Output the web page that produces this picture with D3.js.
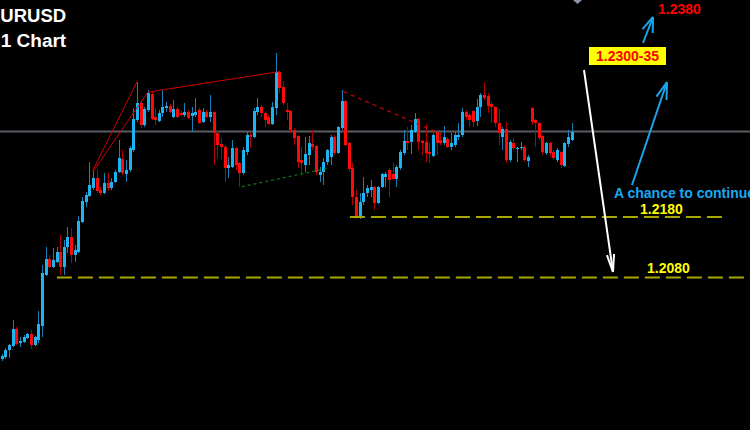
<!DOCTYPE html>
<html>
<head>
<meta charset="utf-8">
<script src="https://cdn.jsdelivr.net/npm/d3@7"></script>
<style>
  html, body { margin: 0; padding: 0; background: #000; }
  svg { display: block; }
</style>
</head>
<body>
<div id="chart"></div>
<script>
// EURUSD H1 candles
var candleOpen = [1.19457,1.19490,1.19606,1.19672,1.19952,1.19721,1.19738,1.19804,1.19870,1.19688,
  1.19771,1.20002,1.20843,1.21107,1.20975,1.21058,1.21223,1.20975,1.21305,1.21470,
  1.21173,1.21223,1.21718,1.22048,1.22147,1.22279,1.22444,1.22246,1.22196,1.22361,
  1.22279,1.22378,1.22543,1.22757,1.22510,1.22576,1.22906,1.23401,1.23681,1.23318,
  1.23566,1.23830,1.23450,1.23384,1.23516,1.23599,1.23632,1.23450,1.23582,1.23516,
  1.23483,1.23533,1.23467,1.23483,1.23566,1.23368,1.23533,1.23450,1.23533,1.23186,
  1.23005,1.22955,1.22609,1.22625,1.22939,1.22691,1.22526,1.22873,1.23153,1.23120,
  1.23533,1.23615,1.23516,1.23450,1.23335,1.23599,1.24193,1.23945,1.23566,1.23549,
  1.23236,1.23137,1.22741,1.22658,1.22823,1.23005,1.22972,1.22493,1.22543,1.22708,
  1.22790,1.23120,1.22856,1.23269,1.23714,1.23021,1.22609,1.22130,1.21784,1.22048,
  1.22196,1.22246,1.22295,1.22031,1.22295,1.22460,1.22576,1.22510,1.22427,1.22609,
  1.22856,1.23054,1.23038,1.23203,1.23417,1.23054,1.23038,1.22873,1.22807,1.23203,
  1.23071,1.23021,1.23087,1.22955,1.22988,1.23120,1.23153,1.23533,1.23483,1.23549,
  1.23384,1.23615,1.23813,1.23797,1.23665,1.23615,1.23351,1.23120,1.23252,1.22741,
  1.23021,1.22922,1.22939,1.22955,1.22724,1.23599,1.23401,1.23351,1.23137,1.22856,
  1.23021,1.22873,1.22741,1.22873,1.22642,1.23005,1.23071];
var candleHigh = [1.19540,1.19639,1.19705,1.20101,1.19985,1.19820,1.19853,1.19886,1.19936,1.19837,
  1.20249,1.21008,1.21305,1.21173,1.21289,1.21305,1.21503,1.21421,1.21635,1.21619,
  1.21338,1.21817,1.22130,1.22213,1.22708,1.22576,1.22576,1.22295,1.22526,1.22526,
  1.22444,1.22576,1.23071,1.22906,1.22741,1.22972,1.23599,1.24028,1.23731,1.23615,
  1.23896,1.23863,1.23599,1.23566,1.23896,1.23698,1.23665,1.23731,1.23615,1.23549,
  1.23681,1.23566,1.23615,1.23764,1.23599,1.23599,1.23566,1.23813,1.23549,1.23236,
  1.23104,1.22988,1.22790,1.23071,1.22955,1.22708,1.22955,1.23203,1.23186,1.23599,
  1.23764,1.23648,1.23533,1.23483,1.23698,1.24506,1.24209,1.24044,1.23681,1.23566,
  1.23269,1.23153,1.22955,1.23120,1.23137,1.23236,1.22988,1.22625,1.22774,1.22922,
  1.23153,1.23153,1.23302,1.23896,1.23731,1.23038,1.22691,1.22246,1.22196,1.22460,
  1.22328,1.22411,1.22312,1.22312,1.22526,1.22543,1.22609,1.22691,1.22658,1.22906,
  1.23236,1.23285,1.23318,1.23516,1.23434,1.23071,1.23335,1.23021,1.23186,1.23219,
  1.23186,1.23302,1.23120,1.23186,1.23203,1.23351,1.23599,1.23566,1.23516,1.23566,
  1.23747,1.23846,1.24028,1.23846,1.23698,1.23632,1.23582,1.23285,1.23368,1.23071,
  1.23104,1.22955,1.23038,1.22988,1.22823,1.23615,1.23417,1.23368,1.23153,1.23038,
  1.23038,1.22906,1.22939,1.22889,1.23038,1.23236,1.23351];
var candleLow = [1.19424,1.19457,1.19474,1.19655,1.19688,1.19655,1.19721,1.19787,1.19622,1.19672,
  1.19721,1.19820,1.20827,1.20959,1.20959,1.21041,1.20843,1.20843,1.21206,1.21041,
  1.21058,1.21206,1.21701,1.21965,1.22130,1.22246,1.22196,1.22163,1.22180,1.22229,
  1.22246,1.22361,1.22526,1.22493,1.22378,1.22543,1.22873,1.23368,1.23269,1.23285,
  1.23533,1.23401,1.23318,1.23368,1.23450,1.23533,1.23516,1.23434,1.23434,1.23467,
  1.23450,1.23417,1.23203,1.23450,1.23335,1.23351,1.23434,1.23368,1.22658,1.22774,
  1.22741,1.22378,1.22444,1.22609,1.22576,1.22295,1.22493,1.22823,1.22939,1.23104,
  1.23483,1.23450,1.23285,1.23318,1.23318,1.23483,1.23846,1.23648,1.23401,1.23186,
  1.22988,1.22609,1.22493,1.22543,1.22658,1.22906,1.22493,1.22378,1.22328,1.22658,
  1.22658,1.22823,1.22840,1.23236,1.22972,1.22543,1.21998,1.21767,1.21767,1.21998,
  1.22130,1.22130,1.21916,1.22015,1.22279,1.22295,1.22130,1.22411,1.22295,1.22576,
  1.22823,1.22906,1.22840,1.23186,1.22906,1.22823,1.22708,1.22691,1.22790,1.22823,
  1.22988,1.22988,1.22939,1.22906,1.22955,1.23071,1.23120,1.23401,1.23285,1.23285,
  1.23302,1.23450,1.23731,1.23516,1.23351,1.23285,1.22988,1.22906,1.22691,1.22708,
  1.22906,1.22708,1.22906,1.22708,1.22625,1.23318,1.22955,1.23071,1.22823,1.22823,
  1.22790,1.22741,1.22708,1.22609,1.22625,1.22955,1.23054];
var candleClose = [1.19507,1.19606,1.19688,1.19952,1.19705,1.19754,1.19820,1.19870,1.19688,1.19820,
  1.20035,1.20876,1.21107,1.20975,1.21091,1.21223,1.20975,1.21305,1.21470,1.21173,
  1.21256,1.21734,1.22064,1.22163,1.22328,1.22444,1.22229,1.22196,1.22361,1.22279,
  1.22378,1.22543,1.22774,1.22526,1.22576,1.22939,1.23417,1.23681,1.23318,1.23582,
  1.23846,1.23417,1.23401,1.23516,1.23615,1.23632,1.23533,1.23582,1.23450,1.23483,
  1.23533,1.23434,1.23516,1.23533,1.23351,1.23533,1.23450,1.23533,1.23186,1.22988,
  1.22955,1.22609,1.22658,1.22939,1.22658,1.22526,1.22906,1.23153,1.23120,1.23549,
  1.23615,1.23516,1.23401,1.23335,1.23615,1.24193,1.23929,1.23681,1.23533,1.23236,
  1.23104,1.22708,1.22691,1.22840,1.23021,1.22955,1.22543,1.22543,1.22708,1.22906,
  1.23120,1.22856,1.23285,1.23714,1.22988,1.22592,1.22130,1.21784,1.22048,1.22196,
  1.22279,1.22295,1.22031,1.22295,1.22510,1.22510,1.22411,1.22427,1.22625,1.22873,
  1.23054,1.23021,1.23236,1.23417,1.23038,1.23021,1.22856,1.22840,1.23153,1.23021,
  1.23021,1.23120,1.22955,1.23021,1.23153,1.23153,1.23533,1.23450,1.23401,1.23368,
  1.23615,1.23813,1.23764,1.23632,1.23615,1.23351,1.23186,1.23252,1.22741,1.23038,
  1.22939,1.22939,1.22955,1.22741,1.22790,1.23368,1.23351,1.23104,1.22873,1.23021,
  1.22856,1.22774,1.22906,1.22658,1.23021,1.23120,1.23203];

// levels and labels
var levelPrices = [1.2180, 1.2080];
var levelLabels = ["1.2180", "1.2080"];
var levelFrom = [95.3, 15.1];   // bar index where each dashed level starts
var levelTo = [197.9, 205];
var currentPrice = 1.23211;
var targetZone = "1.2300-35";
var targetHigh = "1.2380";
var noteText = "A chance to continue";

// trendlines: [bar index, price] pairs
var trendRedFrom = [[25, 1.22576], [25, 1.2255], [40, 1.2386]];
var trendRedTo = [[37, 1.2403], [40, 1.2386], [76, 1.2420]];
var trendGreen = [[65.7, 1.2230], [88.9, 1.2260]];
var trendRedDot = [[93.5, 1.2387], [119.1, 1.2320]];

var width = 750, height = 430;
var n = candleOpen.length;

var x = d3.scaleLinear().domain([0, n - 1]).range([1.7, 571.7]);
var y = d3.scaleLinear().domain([1.2080, 1.2180]).range([277.6, 217]);

var svg = d3.select("#chart").append("svg")
  .attr("width", width)
  .attr("height", height)
  .style("background", "#000");

var blue = "#1eb4f2", blueWick = "#1a80b8",
    red = "#ff0a0a", redWick = "#b00000";

// current price line
svg.append("line")
  .attr("x1", 0).attr("x2", width)
  .attr("y1", y(currentPrice)).attr("y2", y(currentPrice))
  .attr("stroke", "#5c5c64").attr("stroke-width", 2);

var candles = d3.range(n).map(function(i) {
  return {i: i, o: candleOpen[i], h: candleHigh[i], l: candleLow[i], c: candleClose[i]};
});

var g = svg.append("g").attr("shape-rendering", "crispEdges");

g.selectAll(".wick")
  .data(candles)
  .enter().append("rect")
  .attr("class", "wick")
  .attr("x", function(d) { return Math.round(x(d.i)); })
  .attr("width", 1)
  .attr("y", function(d) { return y(d.h); })
  .attr("height", function(d) { return Math.max(1, y(d.l) - y(d.h)); })
  .attr("fill", function(d) { return d.c >= d.o ? blueWick : redWick; });

g.selectAll(".body")
  .data(candles)
  .enter().append("rect")
  .attr("class", "body")
  .attr("x", function(d) { return Math.round(x(d.i)) - 1; })
  .attr("width", 3)
  .attr("y", function(d) { return y(Math.max(d.o, d.c)); })
  .attr("height", function(d) { return Math.max(1, Math.abs(y(d.o) - y(d.c))); })
  .attr("fill", function(d) { return d.c >= d.o ? blue : red; });

// trendlines
trendRedFrom.forEach(function(a, k) {
  var b = trendRedTo[k];
  svg.append("line")
    .attr("x1", x(a[0])).attr("y1", y(a[1]))
    .attr("x2", x(b[0])).attr("y2", y(b[1]))
    .attr("stroke", "#d00000").attr("stroke-width", 1);
});
svg.append("line")
  .attr("x1", x(trendGreen[0][0])).attr("y1", y(trendGreen[0][1]))
  .attr("x2", x(trendGreen[1][0])).attr("y2", y(trendGreen[1][1]))
  .attr("stroke", "#0a7a0a").attr("stroke-width", 1.2)
  .attr("stroke-dasharray", "3,3");
svg.append("line")
  .attr("x1", x(trendRedDot[0][0])).attr("y1", y(trendRedDot[0][1]))
  .attr("x2", x(trendRedDot[1][0])).attr("y2", y(trendRedDot[1][1]))
  .attr("stroke", "#d00000").attr("stroke-width", 1.2)
  .attr("stroke-dasharray", "4,4");

// dashed levels
levelPrices.forEach(function(p, k) {
  svg.append("line")
    .attr("x1", x(levelFrom[k])).attr("x2", x(levelTo[k]))
    .attr("y1", y(p)).attr("y2", y(p))
    .attr("stroke", "#a8a800").attr("stroke-width", 2)
    .attr("stroke-dasharray", "15,6");
});

var font = "'Liberation Sans', Arial, sans-serif";

svg.append("text").attr("x", 640).attr("y", y(levelPrices[0]) - 3)
  .attr("fill", "#ffff00").attr("font-family", font).attr("font-weight", "bold")
  .attr("font-size", 14).text(levelLabels[0]);
svg.append("text").attr("x", 647).attr("y", y(levelPrices[1]) - 5)
  .attr("fill", "#ffff00").attr("font-family", font).attr("font-weight", "bold")
  .attr("font-size", 14).text(levelLabels[1]);

// arrows
function arrow(x1, y1, x2, y2, color, len, ang) {
  var a = Math.atan2(y2 - y1, x2 - x1);
  svg.append("line").attr("x1", x1).attr("y1", y1).attr("x2", x2).attr("y2", y2)
    .attr("stroke", color).attr("stroke-width", 2);
  [-ang, ang].forEach(function(d) {
    svg.append("line").attr("x1", x2).attr("y1", y2)
      .attr("x2", x2 - len * Math.cos(a + d)).attr("y2", y2 - len * Math.sin(a + d))
      .attr("stroke", color).attr("stroke-width", 2);
  });
}
var arrowBlue = "#1aa4ea";
arrow(584, 70, 613, 272, "#ffffff", 18, 0.2);
arrow(632, 185, 667, 82, arrowBlue, 18, 0.3);
arrow(643, 43, 653, 17, arrowBlue, 16, 0.35);

// target box
svg.append("rect").attr("x", 589).attr("y", 47).attr("width", 77).attr("height", 18)
  .attr("fill", "#ffff00");
svg.append("text").attr("x", 596).attr("y", 61)
  .attr("fill", "#ff0000").attr("font-family", font).attr("font-weight", "bold")
  .attr("font-size", 14).text(targetZone);
svg.append("text").attr("x", 658).attr("y", 13.5)
  .attr("fill", "#ff0000").attr("font-family", font).attr("font-weight", "bold")
  .attr("font-size", 14).text(targetHigh);

svg.append("text").attr("x", 614).attr("y", 198)
  .attr("fill", "#1aa8f0").attr("font-family", font).attr("font-weight", "bold")
  .attr("font-size", 14).text(noteText);

// title
svg.append("text").attr("x", -12).attr("y", 22)
  .attr("fill", "#ffffff").attr("font-family", font).attr("font-weight", "bold")
  .attr("font-size", 18.5).text("EURUSD");
svg.append("text").attr("x", -13).attr("y", 47)
  .attr("fill", "#ffffff").attr("font-family", font).attr("font-weight", "bold")
  .attr("font-size", 19).text("H1 Chart");

// small grey marker at top edge
svg.append("path").attr("d", "M573,0L582,0L577.5,4Z").attr("fill", "#8a96a6");
</script>
</body>
</html>
